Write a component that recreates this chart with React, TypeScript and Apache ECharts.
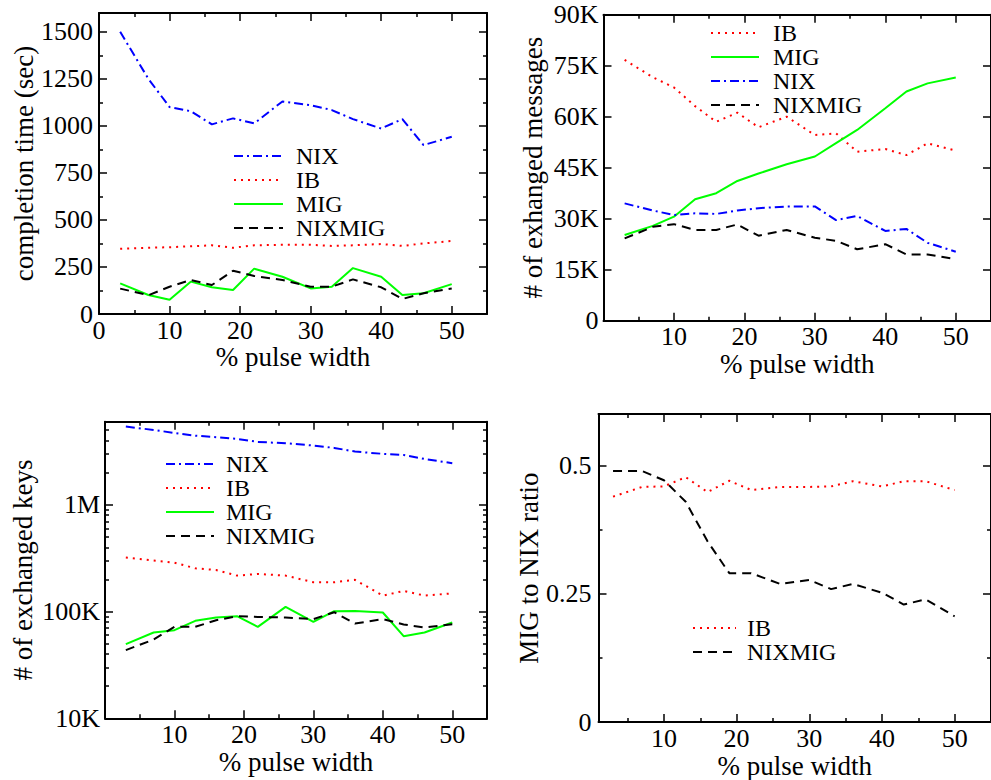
import React, { useEffect, useRef } from "react";
import * as echarts from "echarts";

// ---------- data ----------
const pulseWidth = [3, 7, 10, 13, 16, 19, 22, 26, 30, 33, 36, 40, 43, 46, 50];

// completion time (sec)
const timeNIX = [1500, 1250, 1100, 1078, 1008, 1040, 1013, 1130, 1110, 1084, 1036, 986, 1036, 898, 942];
const timeIB = [347, 352, 355, 360, 365, 352, 365, 368, 368, 362, 365, 372, 362, 375, 388];
const timeMIG = [163, 101, 76, 172, 142, 128, 241, 198, 136, 145, 244, 198, 101, 110, 159];
const timeNIXMIG = [135, 100, 145, 181, 154, 230, 202, 181, 145, 145, 184, 142, 80, 110, 136];

// # of exchanged messages
const msgIB = [76700, 71600, 68600, 63100, 58500, 61200, 56900, 60000, 54600, 55100, 49700, 50500, 48700, 52200, 50000];
const msgMIG = [25200, 27900, 30600, 35700, 37500, 41100, 43300, 46000, 48300, 52200, 56100, 62500, 67400, 69800, 71500];
const msgNIX = [34500, 32400, 31100, 31600, 31400, 32400, 33100, 33600, 33600, 29600, 30800, 26400, 27000, 22900, 20300];
const msgNIXMIG = [24200, 27600, 28400, 26700, 26700, 28300, 25000, 26700, 24400, 23500, 21000, 22500, 19500, 19500, 18100];

// # of exchanged keys
const keysNIX = [5400000, 5020000, 4710000, 4440000, 4290000, 4140000, 3880000, 3770000, 3590000, 3410000, 3150000, 3000000, 2930000, 2690000, 2450000];
const keysIB = [320000, 300000, 287000, 254000, 245000, 217000, 225000, 217000, 188000, 188000, 198000, 141000, 156000, 141000, 148000];
const keysMIG = [49500, 63600, 66900, 81800, 87900, 90400, 71900, 110600, 80000, 100700, 101000, 97900, 58800, 63600, 78900];
const keysNIXMIG = [43500, 54700, 71900, 71900, 83000, 90400, 89100, 87900, 84800, 98600, 77200, 84800, 75600, 70800, 76200];

// MIG to NIX ratio
const ratioIB = [0.439, 0.458, 0.459, 0.477, 0.448, 0.47, 0.452, 0.458, 0.458, 0.459, 0.469, 0.459, 0.469, 0.469, 0.452];
const ratioNIXMIG = [0.489, 0.489, 0.471, 0.429, 0.352, 0.29, 0.29, 0.269, 0.277, 0.259, 0.269, 0.252, 0.229, 0.239, 0.206];

// ticks
const xMajors = [0, 10, 20, 30, 40, 50];
const xMinors = [5, 15, 25, 35, 45];
const xLabelsWithZero = [0, 10, 20, 30, 40, 50];
const xLabels = [10, 20, 30, 40, 50];
const xMajorsNoZero = [10, 20, 30, 40, 50];
const timeMajors = [0, 250, 500, 750, 1000, 1250, 1500];
const timeMinors = [125, 375, 625, 875, 1125, 1375];
const msgMajors = [0, 15000, 30000, 45000, 60000, 75000, 90000];
const keysMinors = [20000, 30000, 40000, 50000, 60000, 70000, 80000, 90000, 200000, 300000, 400000, 500000, 600000, 700000, 800000, 900000, 2000000, 3000000, 4000000, 5000000];
const ratioMajors = [0, 0.25, 0.5];
const ratioMinors = [0.125, 0.375];

const legend1 = ["NIX", "IB", "MIG", "NIXMIG"];
const legend2 = ["IB", "MIG", "NIX", "NIXMIG"];
const legend3 = ["NIX", "IB", "MIG", "NIXMIG"];
const legend4 = ["IB", "NIXMIG"];

// ---------- styling helpers ----------
const FONT = '"Liberation Serif", "DejaVu Serif", serif';
const BLACK = "#000";

const seriesStyle: Record<string, { color: string; type: any }> = {
  NIX: { color: "#0000ff", type: [9, 4, 2, 4] },
  IB: { color: "#ff0000", type: [2, 5] },
  MIG: { color: "#00ff00", type: "solid" },
  NIXMIG: { color: "#000000", type: [9, 6] },
};

type Spec = {
  type: "value" | "log";
  min: number;
  max: number;
  majors?: number[];
  minors: number[];
  labels?: number[];
  fmt: (v: number) => string;
  name: string;
  nameGap: number;
  labelMargin: number;
};

function axesFor(dim: "x" | "y", gridIndex: number, s: Spec) {
  const sides = dim === "x" ? ["bottom", "top"] : ["left", "right"];
  const out: any[] = [];
  sides.forEach((position, i) => {
    const primary = i === 0;
    const base: any = {
      type: s.type,
      gridIndex,
      min: s.min,
      max: s.max,
      position,
      splitLine: { show: false },
      ...(s.type === "log" ? { logBase: 10 } : {}),
    };
    const label: any = primary
      ? {
          show: true,
          fontFamily: FONT,
          fontSize: 26,
          color: BLACK,
          margin: s.labelMargin,
          formatter: s.fmt,
          ...(s.labels ? { customValues: s.labels } : { showMaxLabel: false }),
        }
      : { show: false };
    out.push({
      ...base,
      axisLine: { show: true, onZero: false, lineStyle: { color: BLACK, width: 2 } },
      axisTick: {
        show: true,
        inside: true,
        length: 8,
        lineStyle: { color: BLACK, width: 1.5 },
        ...(s.majors ? { customValues: s.majors } : {}),
      },
      axisLabel: label,
      name: primary ? s.name : "",
      nameLocation: "middle",
      nameGap: s.nameGap,
      nameTextStyle: { fontFamily: FONT, fontSize: 27, color: BLACK },
      z: 10,
    });
    out.push({
      ...base,
      axisLine: { show: false, onZero: false },
      axisTick: {
        show: s.minors.length > 0,
        inside: true,
        length: 4,
        lineStyle: { color: BLACK, width: 1.5 },
        customValues: s.minors.length ? s.minors : undefined,
      },
      axisLabel: { show: false },
      z: 10,
    });
  });
  return out;
}

function line(name: string, grid: number, values: number[]) {
  const st = seriesStyle[name];
  return {
    type: "line",
    name,
    xAxisIndex: grid * 4,
    yAxisIndex: grid * 4,
    data: pulseWidth.map((x, i) => [x, values[i]]),
    symbol: "none",
    showSymbol: false,
    color: st.color,
    lineStyle: { color: st.color, width: 2, type: st.type },
    z: 3,
  };
}

function legend(data: string[], left: number, top: number, itemWidth: number, pad: number) {
  return {
    show: true,
    orient: "vertical",
    left,
    top,
    padding: 0,
    itemGap: 0,
    itemWidth,
    itemHeight: 1,
    itemStyle: { opacity: 0 },
    selectedMode: false,
    data,
    textStyle: { fontFamily: FONT, fontSize: 24, color: BLACK, padding: [0, 0, 0, pad] },
  };
}

const kFmt = (v: number) => (v === 0 ? "0" : `${Math.round(v / 1000)}K`);
const logFmt = (v: number) => (v >= 1e6 ? `${Math.round(v / 1e6)}M` : `${Math.round(v / 1e3)}K`);
const plainFmt = (v: number) => String(v);

function buildOption() {
  const xAxis = [
    ...axesFor("x", 0, { type: "value", min: 0, max: 55, majors: xMajors, minors: xMinors, labels: xLabelsWithZero, fmt: plainFmt, name: "% pulse width", nameGap: 26, labelMargin: 3 }),
    ...axesFor("x", 1, { type: "value", min: 0, max: 55, majors: xMajors, minors: xMinors, labels: xLabels, fmt: plainFmt, name: "% pulse width", nameGap: 26, labelMargin: 3 }),
    ...axesFor("x", 2, { type: "value", min: 0, max: 55, majors: xMajors, minors: xMinors, labels: xLabels, fmt: plainFmt, name: "% pulse width", nameGap: 25, labelMargin: 3 }),
    ...axesFor("x", 3, { type: "value", min: 1, max: 55, majors: xMajorsNoZero, minors: xMinors, labels: xLabels, fmt: plainFmt, name: "% pulse width", nameGap: 28, labelMargin: 3 }),
  ];
  const yAxis = [
    ...axesFor("y", 0, { type: "value", min: 0, max: 1600, majors: timeMajors, minors: timeMinors, labels: timeMajors, fmt: plainFmt, name: "completion time (sec)", nameGap: 60, labelMargin: 6 }),
    ...axesFor("y", 1, { type: "value", min: 0, max: 90000, majors: msgMajors, minors: [], labels: msgMajors, fmt: kFmt, name: "# of exhanged messages", nameGap: 57, labelMargin: 5 }),
    ...axesFor("y", 2, { type: "log", min: 10000, max: 6000000, minors: keysMinors, fmt: logFmt, name: "# of exchanged keys", nameGap: 69, labelMargin: 5 }),
    ...axesFor("y", 3, { type: "value", min: 0, max: 0.6, majors: ratioMajors, minors: ratioMinors, labels: ratioMajors, fmt: plainFmt, name: "MIG to NIX ratio", nameGap: 56, labelMargin: 7 }),
  ];
  return {
    animation: false,
    backgroundColor: "#fff",
    textStyle: { fontFamily: FONT },
    grid: [
      { left: 99, top: 13, width: 388, height: 301 },
      { left: 603.5, top: 14.7, width: 393.5, height: 306 },
      { left: 105, top: 421.7, width: 382, height: 296.6 },
      { left: 598.5, top: 414, width: 398, height: 309.3 },
    ],
    xAxis,
    yAxis,
    legend: [
      legend(legend1, 233, 144, 49, 8),
      legend(legend2, 710, 21, 48, 9),
      legend(legend3, 165, 452, 48, 7),
      legend(legend4, 692, 616, 43, 6),
    ],
    series: [
      line("NIX", 0, timeNIX),
      line("IB", 0, timeIB),
      line("MIG", 0, timeMIG),
      line("NIXMIG", 0, timeNIXMIG),
      line("IB", 1, msgIB),
      line("MIG", 1, msgMIG),
      line("NIX", 1, msgNIX),
      line("NIXMIG", 1, msgNIXMIG),
      line("NIX", 2, keysNIX),
      line("IB", 2, keysIB),
      line("MIG", 2, keysMIG),
      line("NIXMIG", 2, keysNIXMIG),
      line("IB", 3, ratioIB),
      line("NIXMIG", 3, ratioNIXMIG),
    ],
  };
}

export default function App() {
  const ref = useRef<HTMLDivElement>(null);
  useEffect(() => {
    if (!ref.current) return;
    const chart = echarts.init(ref.current, undefined, { renderer: "svg" });
    chart.setOption(buildOption() as any);
    return () => chart.dispose();
  }, []);
  return (
    <div
      ref={ref}
      style={{ position: "absolute", left: 0, top: 0, width: 991, height: 780, background: "#fff" }}
    />
  );
}
